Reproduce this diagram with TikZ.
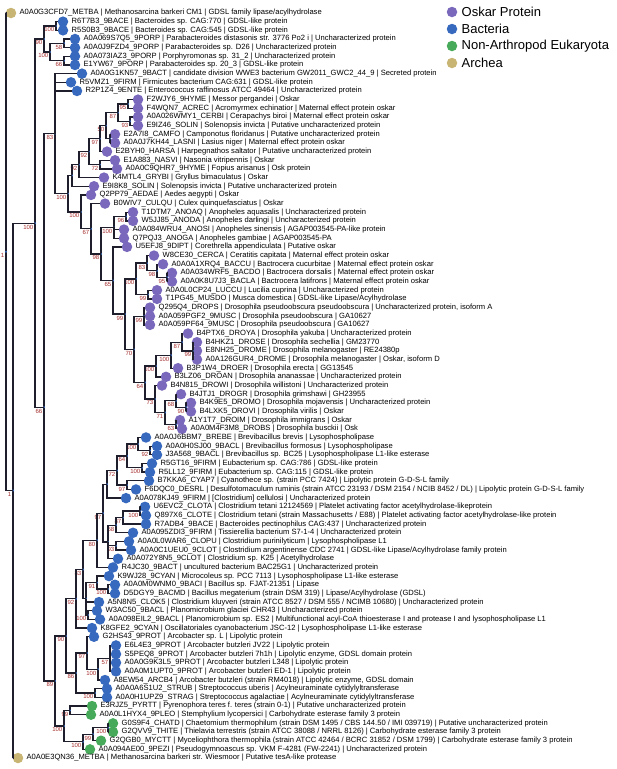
\documentclass[tikz,border=0pt]{standalone}
\usepackage{fontspec}
\setmainfont{Liberation Sans}
\usetikzlibrary{calc}
\definecolor{oskarcol}{RGB}{122,104,188}
\definecolor{bactcol}{RGB}{55,105,190}
\definecolor{eukcol}{RGB}{70,170,90}
\definecolor{archcol}{RGB}{200,180,115}
\definecolor{bootcol}{RGB}{165,45,45}
\definecolor{branchcol}{RGB}{30,30,45}
\tikzset{
	leafdot/.style={circle, inner sep=0pt, minimum size=10.5pt},
	leaflabel/.style={anchor=west, inner sep=0pt, font=\fontsize{7.6}{8}\selectfont},
	branch/.style={draw=branchcol, line width=1.3pt},
	support/.style={anchor=north east, inner sep=0pt, xshift=-1.5pt, yshift=-1.5pt, text=bootcol, font=\fontsize{6}{6}\selectfont},
	nodemark/.style={circle, fill=bactcol, inner sep=0pt, minimum size=2.2pt},
	legendlabel/.style={anchor=west, inner sep=0pt, font=\fontsize{13}{15}\selectfont}
}
\newcommand{\leaf}[5] % name, x, row, colour, label
{
	\node[leafdot, fill=#4] (#1) at (#2, {13+(#3-1)*8.663}) {};
	\node[leaflabel] at ([xshift=3pt]#1.east) {#5};
}
\newcommand{\clade}[5] % name, x, first child, last child, support
{
	\path let \p1=(#3), \p2=(#4) in coordinate (#1) at (#2pt, {(\y1+\y2)/2});
	\draw[branch] (#3) -| (#1) |- (#4);
	\node[support] at (#1) {#5};
	\node[nodemark] at (#1) {};
}
\newcommand{\twig}[2] % parent, extra child
{
	\draw[branch] (#1) |- (#2);
}

\begin{document}
\begin{tikzpicture}[x=1pt, y=-1pt]
	\useasboundingbox (0,0) rectangle (617,769);

	% legend
	\node[leafdot, fill=oskarcol] (lgosk) at (452,12) {};
	\node[legendlabel] at ([xshift=4pt]lgosk.east) {Oskar Protein};
	\node[leafdot, fill=bactcol] (lgbac) at (452,29) {};
	\node[legendlabel] at ([xshift=4pt]lgbac.east) {Bacteria};
	\node[leafdot, fill=eukcol] (lgeuk) at (452,46) {};
	\node[legendlabel] at ([xshift=4pt]lgeuk.east) {Non-Arthropod Eukaryota};
	\node[leafdot, fill=archcol] (lgarc) at (452,63) {};
	\node[legendlabel] at ([xshift=4pt]lgarc.east) {Archea};

	% leaves
	\leaf{L1}{11}{1}{archcol}{A0A0G3CFD7\_METBA | Methanosarcina barkeri CM1 | GDSL family lipase/acylhydrolase}
	\leaf{L2}{63}{2}{bactcol}{R6T7B3\_9BACE | Bacteroides sp. CAG:770 | GDSL-like protein}
	\leaf{L3}{63}{3}{bactcol}{R5S0B3\_9BACE | Bacteroides sp. CAG:545 | GDSL-like protein}
	\leaf{L4}{75}{4}{bactcol}{A0A069S7Q5\_9PORP | Parabacteroides distasonis str. 3776 Po2 i | Uncharacterized protein}
	\leaf{L5}{75}{5}{bactcol}{A0A0J9FZD4\_9PORP | Parabacteroides sp. D26 | Uncharacterized protein}
	\leaf{L6}{75}{6}{bactcol}{A0A073IAZ3\_9PORP | Porphyromonas sp. 31\_2 | Uncharacterized protein}
	\leaf{L7}{75}{7}{bactcol}{E1YW67\_9PORP | Parabacteroides sp. 20\_3 | GDSL-like protein}
	\leaf{L8}{82}{8}{bactcol}{A0A0G1KN57\_9BACT | candidate division WWE3 bacterium GW2011\_GWC2\_44\_9 | Secreted protein}
	\leaf{L9}{71}{9}{bactcol}{R5VMZ1\_9FIRM | Firmicutes bacterium CAG:631 | GDSL-like protein}
	\leaf{L10}{77}{10}{bactcol}{R2P1Z4\_9ENTE | Enterococcus raffinosus ATCC 49464 | Uncharacterized protein}
	\leaf{L11}{138}{11}{oskarcol}{F2WJY6\_9HYME | Messor pergandei | Oskar}
	\leaf{L12}{138}{12}{oskarcol}{F4WQN7\_ACREC | Acromyrmex echinatior | Maternal effect protein oskar}
	\leaf{L13}{138}{13}{oskarcol}{A0A026WMY1\_CERBI | Cerapachys biroi | Maternal effect protein oskar}
	\leaf{L14}{138}{14}{oskarcol}{E9IZ46\_SOLIN | Solenopsis invicta | Putative uncharacterized protein}
	\leaf{L15}{115}{15}{oskarcol}{E2A7I8\_CAMFO | Camponotus floridanus | Putative uncharacterized protein}
	\leaf{L16}{115}{16}{oskarcol}{A0A0J7KH44\_LASNI | Lasius niger | Maternal effect protein oskar}
	\leaf{L17}{107}{17}{oskarcol}{E2BYH0\_HARSA | Harpegnathos saltator | Putative uncharacterized protein}
	\leaf{L18}{115}{18}{oskarcol}{E1A883\_NASVI | Nasonia vitripennis | Oskar}
	\leaf{L19}{117}{19}{oskarcol}{A0A0C9QHR7\_9HYME | Fopius arisanus | Osk protein}
	\leaf{L20}{104}{20}{oskarcol}{K4MTL4\_GRYBI | Gryllus bimaculatus | Oskar}
	\leaf{L21}{94}{21}{oskarcol}{E9I8K8\_SOLIN | Solenopsis invicta | Putative uncharacterized protein}
	\leaf{L22}{91}{22}{oskarcol}{Q2PP79\_AEDAE | Aedes aegypti | Oskar}
	\leaf{L23}{105}{23}{oskarcol}{B0WIV7\_CULQU | Culex quinquefasciatus | Oskar}
	\leaf{L24}{133}{24}{oskarcol}{T1DTM7\_ANOAQ | Anopheles aquasalis | Uncharacterized protein}
	\leaf{L25}{133}{25}{oskarcol}{W5JJ85\_ANODA | Anopheles darlingi | Uncharacterized protein}
	\leaf{L26}{124}{26}{oskarcol}{A0A084WRU4\_ANOSI | Anopheles sinensis | AGAP003545-PA-like protein}
	\leaf{L27}{124}{27}{oskarcol}{Q7PQJ3\_ANOGA | Anopheles gambiae | AGAP003545-PA}
	\leaf{L28}{127}{28}{oskarcol}{U5EFJ8\_9DIPT | Corethrella appendiculata | Putative oskar}
	\leaf{L29}{154}{29}{oskarcol}{W8CE30\_CERCA | Ceratitis capitata | Maternal effect protein oskar}
	\leaf{L30}{163}{30}{oskarcol}{A0A0A1XRQ4\_BACCU | Bactrocera cucurbitae | Maternal effect protein oskar}
	\leaf{L31}{172}{31}{oskarcol}{A0A034WRF5\_BACDO | Bactrocera dorsalis | Maternal effect protein oskar}
	\leaf{L32}{172}{32}{oskarcol}{A0A0K8U7J3\_BACLA | Bactrocera latifrons | Maternal effect protein oskar}
	\leaf{L33}{157}{33}{oskarcol}{A0A0L0CP24\_LUCCU | Lucilia cuprina | Uncharacterized protein}
	\leaf{L34}{157}{34}{oskarcol}{T1PG45\_MUSDO | Musca domestica | GDSL-like Lipase/Acylhydrolase}
	\leaf{L35}{150}{35}{oskarcol}{Q295Q4\_DROPS | Drosophila pseudoobscura pseudoobscura | Uncharacterized protein, isoform A}
	\leaf{L36}{150}{36}{oskarcol}{A0A059PGF2\_9MUSC | Drosophila pseudoobscura | GA10627}
	\leaf{L37}{150}{37}{oskarcol}{A0A059PF64\_9MUSC | Drosophila pseudoobscura | GA10627}
	\leaf{L38}{188}{38}{oskarcol}{B4PTX6\_DROYA | Drosophila yakuba | Uncharacterized protein}
	\leaf{L39}{197}{39}{oskarcol}{B4HKZ1\_DROSE | Drosophila sechellia | GM23770}
	\leaf{L40}{197}{40}{oskarcol}{E8NH25\_DROME | Drosophila melanogaster | RE24380p}
	\leaf{L41}{197}{41}{oskarcol}{A0A126GUR4\_DROME | Drosophila melanogaster | Oskar, isoform D}
	\leaf{L42}{178}{42}{oskarcol}{B3P1W4\_DROER | Drosophila erecta | GG13545}
	\leaf{L43}{166}{43}{oskarcol}{B3LZ06\_DROAN | Drosophila ananassae | Uncharacterized protein}
	\leaf{L44}{162}{44}{oskarcol}{B4N815\_DROWI | Drosophila willistoni | Uncharacterized protein}
	\leaf{L45}{181}{45}{oskarcol}{B4JTJ1\_DROGR | Drosophila grimshawi | GH23955}
	\leaf{L46}{191}{46}{oskarcol}{B4K9E5\_DROMO | Drosophila mojavensis | Uncharacterized protein}
	\leaf{L47}{191}{47}{oskarcol}{B4LXK5\_DROVI | Drosophila virilis | Oskar}
	\leaf{L48}{180}{48}{oskarcol}{A1Y1T7\_DROIM | Drosophila immigrans | Oskar}
	\leaf{L49}{182}{49}{oskarcol}{A0A0M4F3M8\_DROBS | Drosophila busckii | Osk}
	\leaf{L50}{146}{50}{bactcol}{A0A0J6BBM7\_BREBE | Brevibacillus brevis | Lysophospholipase}
	\leaf{L51}{157}{51}{bactcol}{A0A0H0SJ00\_9BACL | Brevibacillus formosus | Lysophospholipase}
	\leaf{L52}{157}{52}{bactcol}{J3A568\_9BACL | Brevibacillus sp. BC25 | Lysophospholipase L1-like esterase}
	\leaf{L53}{152}{53}{bactcol}{R5GT16\_9FIRM | Eubacterium sp. CAG:786 | GDSL-like protein}
	\leaf{L54}{150}{54}{bactcol}{R5LL12\_9FIRM | Eubacterium sp. CAG:115 | GDSL-like protein}
	\leaf{L55}{149}{55}{bactcol}{B7KKA6\_CYAP7 | Cyanothece sp. (strain PCC 7424) | Lipolytic protein G-D-S-L family}
	\leaf{L56}{136}{56}{bactcol}{F6DQC0\_DESRL | Desulfotomaculum ruminis (strain ATCC 23193 / DSM 2154 / NCIB 8452 / DL) | Lipolytic protein G-D-S-L family}
	\leaf{L57}{126}{57}{bactcol}{A0A078KJ49\_9FIRM | [Clostridium] cellulosi | Uncharacterized protein}
	\leaf{L58}{145}{58}{bactcol}{U6EVC2\_CLOTA | Clostridium tetani 12124569 | Platelet activating factor acetylhydrolase-likeprotein}
	\leaf{L59}{146}{59}{bactcol}{Q897X6\_CLOTE | Clostridium tetani (strain Massachusetts / E88) | Platelet activating factor acetylhydrolase-like protein}
	\leaf{L60}{146}{60}{bactcol}{R7ADB4\_9BACE | Bacteroides pectinophilus CAG:437 | Uncharacterized protein}
	\leaf{L61}{133}{61}{bactcol}{A0A095ZDI3\_9FIRM | Tissierellia bacterium S7-1-4 | Uncharacterized protein}
	\leaf{L62}{129}{62}{bactcol}{A0A0L0WAR6\_CLOPU | Clostridium purinilyticum | Lysophospholipase L1}
	\leaf{L63}{131}{63}{bactcol}{A0A0C1UEU0\_9CLOT | Clostridium argentinense CDC 2741 | GDSL-like Lipase/Acylhydrolase family protein}
	\leaf{L64}{118}{64}{bactcol}{A0A072Y8N5\_9CLOT | Clostridium sp. K25 | Acetylhydrolase}
	\leaf{L65}{113}{65}{bactcol}{R4JC30\_9BACT | uncultured bacterium BAC25G1 | Uncharacterized protein}
	\leaf{L66}{109}{66}{bactcol}{K9WJ28\_9CYAN | Microcoleus sp. PCC 7113 | Lysophospholipase L1-like esterase}
	\leaf{L67}{115}{67}{bactcol}{A0A0M0WNM0\_9BACI | Bacillus sp. FJAT-21351 | Lipase}
	\leaf{L68}{115}{68}{bactcol}{D5DGY9\_BACMD | Bacillus megaterium (strain DSM 319) | Lipase/Acylhydrolase (GDSL)}
	\leaf{L69}{99}{69}{bactcol}{A5N8N5\_CLOK5 | Clostridium kluyveri (strain ATCC 8527 / DSM 555 / NCIMB 10680) | Uncharacterized protein}
	\leaf{L70}{97}{70}{bactcol}{W3AC50\_9BACL | Planomicrobium glaciei CHR43 | Uncharacterized protein}
	\leaf{L71}{100}{71}{bactcol}{A0A098EIL2\_9BACL | Planomicrobium sp. ES2 | Multifunctional acyl-CoA thioesterase I and protease I and lysophospholipase L1}
	\leaf{L72}{92}{72}{bactcol}{K8GFE2\_9CYAN | Oscillatoriales cyanobacterium JSC-12 | Lysophospholipase L1-like esterase}
	\leaf{L73}{94}{73}{bactcol}{G2HS43\_9PROT | Arcobacter sp. L | Lipolytic protein}
	\leaf{L74}{116}{74}{bactcol}{E6L4E3\_9PROT | Arcobacter butzleri JV22 | Lipolytic protein}
	\leaf{L75}{116}{75}{bactcol}{S5PEQ8\_9PROT | Arcobacter butzleri 7h1h | Lipolytic enzyme, GDSL domain protein}
	\leaf{L76}{116}{76}{bactcol}{A0A0G9K3L5\_9PROT | Arcobacter butzleri L348 | Lipolytic protein}
	\leaf{L77}{116}{77}{bactcol}{A0A0M1UPT0\_9PROT | Arcobacter butzleri ED-1 | Lipolytic protein}
	\leaf{L78}{105}{78}{bactcol}{A8EW54\_ARCB4 | Arcobacter butzleri (strain RM4018) | Lipolytic enzyme, GDSL domain}
	\leaf{L79}{107}{79}{bactcol}{A0A0A6S1U2\_STRUB | Streptococcus uberis | Acylneuraminate cytidylyltransferase}
	\leaf{L80}{107}{80}{bactcol}{A0A0H1UPZ9\_STRAG | Streptococcus agalactiae | Acylneuraminate cytidylyltransferase}
	\leaf{L81}{92}{81}{eukcol}{E3RJZ5\_PYRTT | Pyrenophora teres f. teres (strain 0-1) | Putative uncharacterized protein}
	\leaf{L82}{91}{82}{eukcol}{A0A0L1HYX4\_9PLEO | Stemphylium lycopersici | Carbohydrate esterase family 3 protein}
	\leaf{L83}{113}{83}{eukcol}{G0S9F4\_CHATD | Chaetomium thermophilum (strain DSM 1495 / CBS 144.50 / IMI 039719) | Putative uncharacterized protein}
	\leaf{L84}{113}{84}{eukcol}{G2QVV9\_THITE | Thielavia terrestris (strain ATCC 38088 / NRRL 8126) | Carbohydrate esterase family 3 protein}
	\leaf{L85}{101}{85}{eukcol}{G2QGB0\_MYCTT | Myceliophthora thermophila (strain ATCC 42464 / BCRC 31852 / DSM 1799) | Carbohydrate esterase family 3 protein}
	\leaf{L86}{90}{86}{eukcol}{A0A094AE00\_9PEZI | Pseudogymnoascus sp. VKM F-4281 (FW-2241) | Uncharacterized protein}
	\leaf{L87}{18}{87}{archcol}{A0A0E3QN36\_METBA | Methanosarcina barkeri str. Wiesmoor | Putative tesA-like protease}

	% bacteria, top
	\clade{nBace}{56}{L2}{L3}{100}
	\clade{nPorpA}{64}{L4}{L5}{58}
	\clade{nPorpB}{64}{L6}{L7}{66}
	\clade{nPorp}{50}{nPorpA}{nPorpB}{100}
	\clade{nTopA}{44}{nBace}{nPorp}{90}

	% oskar, hymenoptera
	\clade{nAntA}{128}{L11}{L12}{95}
	\clade{nAntB}{130}{L13}{L14}{93}
	\clade{nAntC}{118}{nAntA}{nAntB}{87}
	\clade{nCamp}{110}{L15}{L16}{}
	\clade{nAnts}{106}{nAntC}{nCamp}{50}
	\clade{nAntH}{100}{nAnts}{L17}{97}
	\clade{nWasp}{100}{L18}{L19}{72}
	\clade{nHym}{89}{nAntH}{nWasp}{92}
	\clade{nHymG}{79}{nHym}{L20}{92}
	\clade{nHymS}{72}{nHymG}{L21}{}

	% oskar, diptera
	\clade{nAnoA}{126}{L24}{L25}{96}
	\clade{nAno}{114}{nAnoA}{L27}{100}
	\twig{nAno}{L26}
	\clade{nBacA}{167}{L31}{L32}{95}
	\clade{nBacB}{157}{L30}{nBacA}{98}
	\clade{nTeph}{147}{L29}{nBacB}{83}
	\clade{nMusc}{148}{L33}{L34}{99}
	\clade{nCaly}{136}{nTeph}{nMusc}{100}
	\clade{nPse}{144}{L35}{L37}{99}
	\twig{nPse}{L36}
	\clade{nMel}{193}{L39}{L41}{99}
	\twig{nMel}{L40}
	\clade{nMelY}{182}{L38}{nMel}{87}
	\clade{nMelE}{171}{nMelY}{L42}{100}
	\clade{nMelA}{156}{nMelE}{L43}{100}
	\clade{nVir}{186}{L46}{L47}{90}
	\clade{nGri}{176}{L45}{nVir}{68}
	\clade{nImm}{176}{L48}{L49}{63}
	\clade{nVirI}{165}{nGri}{nImm}{71}
	\clade{nWil}{155}{L44}{nVirI}{73}
	\clade{nSoph}{145}{nMelA}{nWil}{64}
	\clade{nDros}{134}{nPse}{nSoph}{70}
	\clade{nBrachy}{125}{nCaly}{nDros}{99}
	\clade{nCore}{113}{L28}{nBrachy}{65}
	\clade{nNema}{101}{nAno}{nCore}{98}
	\clade{nCul}{91}{L23}{nNema}{67}
	\clade{nDip}{81}{L22}{nCul}{100}
	\clade{nOskar}{68}{nHymS}{nDip}{100}

	% oskar with top bacteria
	\clade{nIns}{55}{L8}{nOskar}{83}
	\twig{nIns}{L9}
	\twig{nIns}{L10}

	% bacteria, lower
	\clade{nBreA}{150}{L51}{L52}{92}
	\clade{nBre}{138}{L50}{nBreA}{100}
	\clade{nEub}{142}{L53}{L54}{100}
	\clade{nBreE}{127}{nBre}{nEub}{64}
	\clade{nCya}{127}{L55}{L56}{97}
	\clade{nBreC}{117}{nBreE}{nCya}{72}
	\clade{nBreK}{107}{nBreC}{L57}{}
	\clade{nTetA}{140}{L58}{L59}{100}
	\clade{nTet}{123}{nTetA}{L60}{87}
	\clade{nTis}{116}{nTet}{L61}{68}
	\clade{nPur}{116}{L62}{L63}{93}
	\clade{nClo}{108}{nTis}{L64}{}
	\twig{nClo}{nPur}
	\clade{nCloS}{103}{nBreK}{nClo}{97}
	\clade{nCloU}{97}{nCloS}{L65}{80}
	\clade{nBacl}{108}{L67}{L68}{100}
	\clade{nMic}{97}{L66}{nBacl}{91}
	\clade{nPla}{88}{L70}{L71}{100}
	\clade{nPlaM}{86}{nMic}{nPla}{}
	\twig{nPlaM}{L69}
	\clade{nFirm}{83}{nCloU}{nPlaM}{83}
	\clade{nOsc}{76}{nFirm}{L72}{92}
	\clade{nArcA}{110}{L74}{L77}{57}
	\twig{nArcA}{L75}
	\twig{nArcA}{L76}
	\clade{nArcB}{98}{nArcA}{L78}{100}
	\clade{nArc}{87}{L73}{nArcB}{97}
	\clade{nStr}{95}{L79}{L80}{100}
	\clade{nArcS}{76}{nArc}{nStr}{86}
	\clade{nLowA}{66}{nOsc}{nArcS}{90}

	% eukaryota
	\clade{nPle}{70}{L81}{L82}{99}
	\clade{nSor}{108}{L83}{L84}{100}
	\clade{nSorM}{93}{nSor}{L85}{99}
	\clade{nSorP}{83}{nSorM}{L86}{100}
	\clade{nEuk}{64}{nPle}{nSorP}{100}
	\clade{nLowE}{55}{nLowA}{nEuk}{89}

	% backbone
	\clade{nW}{44}{nIns}{nLowE}{66}
	\clade{nC}{35}{nTopA}{nW}{100}
	\clade{nB}{13}{nC}{L87}{1}
	\clade{nRoot}{6}{L1}{nB}{1}
\end{tikzpicture}
\end{document}
